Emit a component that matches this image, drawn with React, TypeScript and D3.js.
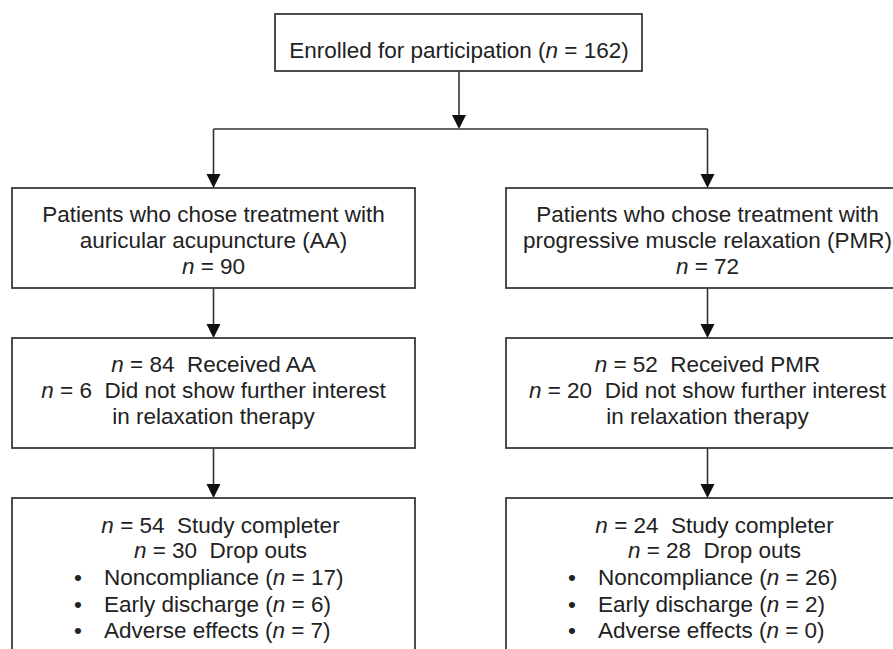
import React, { useEffect, useRef } from 'react';
import * as d3 from 'd3';

// flow chart numbers
const enrolled = 162;
const groups = ['AA', 'PMR'];
const groupNames = ['auricular acupuncture (AA)', 'progressive muscle relaxation (PMR)'];
const chose = [90, 72];
const received = [84, 52];
const notInterested = [6, 20];
const completers = [54, 24];
const dropOuts = [30, 28];
const dropReasons = ['Noncompliance', 'Early discharge', 'Adverse effects'];
const reasonCounts = [
  [17, 6, 7],
  [26, 2, 0],
];

const W = 893;
const H = 649;
const FONT = '"Liberation Sans", Arial, Helvetica, sans-serif';

type Seg = { t: string; i?: boolean };

function App() {
  const ref = useRef<SVGSVGElement>(null);

  useEffect(() => {
    document.body.style.margin = '0';
    const svg = d3.select(ref.current);
    svg.selectAll('*').remove();

    const colX = d3.scalePoint<string>().domain(groups).range([213.5, 707.5]);
    const boxW = 403;
    const lineH = 26.5;

    const g = svg.append('g');

    const writeLine = (x: number, y: number, segs: Seg[], anchor = 'middle') => {
      const t = g
        .append('text')
        .attr('x', x)
        .attr('y', y)
        .attr('text-anchor', anchor)
        .style('font-family', FONT)
        .style('font-size', '22.5px')
        .style('fill', '#222');
      segs.forEach((s) => {
        t.append('tspan')
          .attr('xml:space', 'preserve')
          .style('font-style', s.i ? 'italic' : 'normal')
          .text(s.t);
      });
    };

    const box = (x0: number, y0: number, w: number, h: number) => {
      g.append('rect')
        .attr('x', x0)
        .attr('y', y0)
        .attr('width', w)
        .attr('height', h)
        .attr('fill', '#fff')
        .attr('stroke', '#3a3a3a')
        .attr('stroke-width', 1.8);
    };

    const arrow = (x: number, y1: number, y2: number) => {
      g.append('line')
        .attr('x1', x)
        .attr('x2', x)
        .attr('y1', y1)
        .attr('y2', y2 - 12)
        .attr('stroke', '#333')
        .attr('stroke-width', 1.6);
      g.append('path')
        .attr('d', d3.line()([[x - 7, y2 - 14], [x + 7, y2 - 14], [x, y2]]) + 'Z')
        .attr('fill', '#111');
    };

    // top box
    const topX = 459;
    box(275, 14, 367, 57);
    writeLine(topX, 58, [{ t: 'Enrolled for participation (' }, { t: 'n', i: true }, { t: ` = ${enrolled})` }]);

    // split
    arrow(topX, 71, 129);
    g.append('line')
      .attr('x1', colX('AA')!)
      .attr('x2', colX('PMR')!)
      .attr('y1', 129)
      .attr('y2', 129)
      .attr('stroke', '#333')
      .attr('stroke-width', 1.6);

    const rows = [
      { top: 188, h: 100 },
      { top: 338, h: 110 },
      { top: 498, h: 170 },
    ];

    groups.forEach((grp, k) => {
      const cx = colX(grp)!;
      const left = cx - boxW / 2;

      arrow(cx, 129, rows[0].top);
      arrow(cx, rows[0].top + rows[0].h, rows[1].top);
      arrow(cx, rows[1].top + rows[1].h, rows[2].top);

      rows.forEach((r) => box(left, r.top, boxW, r.h));

      // row 1
      let y = rows[0].top + 34;
      writeLine(cx, y, [{ t: 'Patients who chose treatment with' }]);
      writeLine(cx, y + lineH - 0.5, [{ t: groupNames[k] }]);
      writeLine(cx, y + 2 * lineH - 1, [{ t: 'n', i: true }, { t: ` = ${chose[k]}` }]);

      // row 2
      y = rows[1].top + 34;
      writeLine(cx, y, [{ t: 'n', i: true }, { t: ` = ${received[k]}  Received ${grp}` }]);
      writeLine(cx, y + 26, [{ t: 'n', i: true }, { t: ` = ${notInterested[k]}  Did not show further interest` }]);
      writeLine(cx, y + 52, [{ t: 'in relaxation therapy' }]);

      // row 3
      y = rows[2].top + 35;
      writeLine(cx + 7, y, [{ t: 'n', i: true }, { t: ` = ${completers[k]}  Study completer` }]);
      writeLine(cx + 7, y + 25, [{ t: 'n', i: true }, { t: ` = ${dropOuts[k]}  Drop outs` }]);
      dropReasons.forEach((reason, j) => {
        const yy = y + 52 + j * 26.5;
        writeLine(left + 66, yy, [{ t: '•' }]);
        writeLine(left + 92, yy, [{ t: `${reason} (` }, { t: 'n', i: true }, { t: ` = ${reasonCounts[k][j]})` }], 'start');
      });
    });
  }, []);

  return <svg ref={ref} width={W} height={H} style={{ display: 'block', background: '#fff' }} />;
}

export default App;
